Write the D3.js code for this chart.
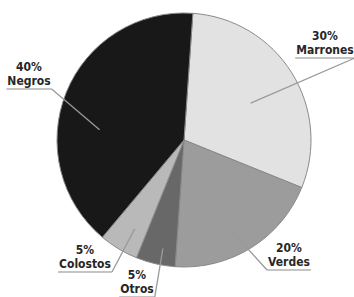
<!DOCTYPE html>
<html>
<head>
<meta charset="utf-8">
<script src="https://cdn.jsdelivr.net/npm/d3@7"></script>
<style>
body { margin: 0; background: #fff; }
text { font-family: "Liberation Sans Narrow", "DejaVu Sans Condensed", sans-serif; }
</style>
</head>
<body>
<div id="chart"></div>
<script>
const width = 354
const height = 297

// datos
const categorias = ["Marrones", "Verdes", "Otros", "Colostos", "Negros"]
const valores = [30, 20, 5, 5, 40]
const colores = ["#e2e2e2", "#9c9c9c", "#686868", "#b9b9b9", "#181818"]

// donde va cada etiqueta (texto) y el punto dentro del sector
const etiquetas = {
	"Marrones": {x: 325, y: 40, ang: 3, rf: 0.6, lado: "der"},
	"Verdes":   {x: 289, y: 252, ang: 4, rf: 0.83, lado: "izq"},
	"Otros":    {x: 137, y: 279, ang: -2, rf: 0.87, lado: "der"},
	"Colostos": {x: 85,  y: 254, ang: -2, rf: 0.8, lado: "der"},
	"Negros":   {x: 29,  y: 71,  ang: -15, rf: 0.67, lado: "der"}
}

const cx = 184, cy = 140, r = 127

const svg = d3.select("#chart")
	.append("svg")
	.attr("width", width)
	.attr("height", height)

const pie = d3.pie()
	.sort(null)
	.value(d => d.valor)
	.startAngle(4 * Math.PI / 180)
	.endAngle(4 * Math.PI / 180 + 2 * Math.PI)

const datos = categorias.map((c, i) => ({nombre: c, valor: valores[i], color: colores[i]}))
const arcos = pie(datos)

const arc = d3.arc().innerRadius(0).outerRadius(r)

const g = svg.append("g").attr("transform", `translate(${cx},${cy})`)

g.selectAll("path")
	.data(arcos)
	.join("path")
		.attr("d", arc)
		.attr("fill", d => d.data.color)
		.attr("stroke", "#8a8a8a")
		.attr("stroke-width", 1)

// etiquetas
const lab = svg.append("g")

arcos.forEach(d => {
	const e = etiquetas[d.data.nombre]
	const mid = (d.startAngle + d.endAngle) / 2 + e.ang * Math.PI / 180
	const px = cx + Math.sin(mid) * r * e.rf
	const py = cy - Math.cos(mid) * r * e.rf

	const t = lab.append("text")
		.attr("text-anchor", "middle")
		.attr("font-size", "12px")
		.attr("font-weight", "bold")
		.attr("fill", "#262626")
	t.append("tspan").attr("x", e.x).attr("y", e.y).text(d3.format(".0%")(d.data.valor / 100))
	t.append("tspan").attr("x", e.x).attr("y", e.y + 14).text(d.data.nombre)

	const w = t.node().getBBox()
	const uy = e.y + 18
	const x0 = e.x - 23 < w.x ? w.x - 1 : e.x - 23
	const ux0 = w.x - 1, ux1 = w.x + w.width + 1

	lab.append("line")
		.attr("x1", ux0).attr("x2", ux1)
		.attr("y1", uy).attr("y2", uy)
		.attr("stroke", "#c4c4c4")
		.attr("stroke-width", 2)

	const sx = e.lado == "der" ? ux1 : ux0
	lab.append("line")
		.attr("x1", sx).attr("y1", uy)
		.attr("x2", px).attr("y2", py)
		.attr("stroke", "#9a9a9a")
		.attr("stroke-width", 1.3)
})
</script>
</body>
</html>
